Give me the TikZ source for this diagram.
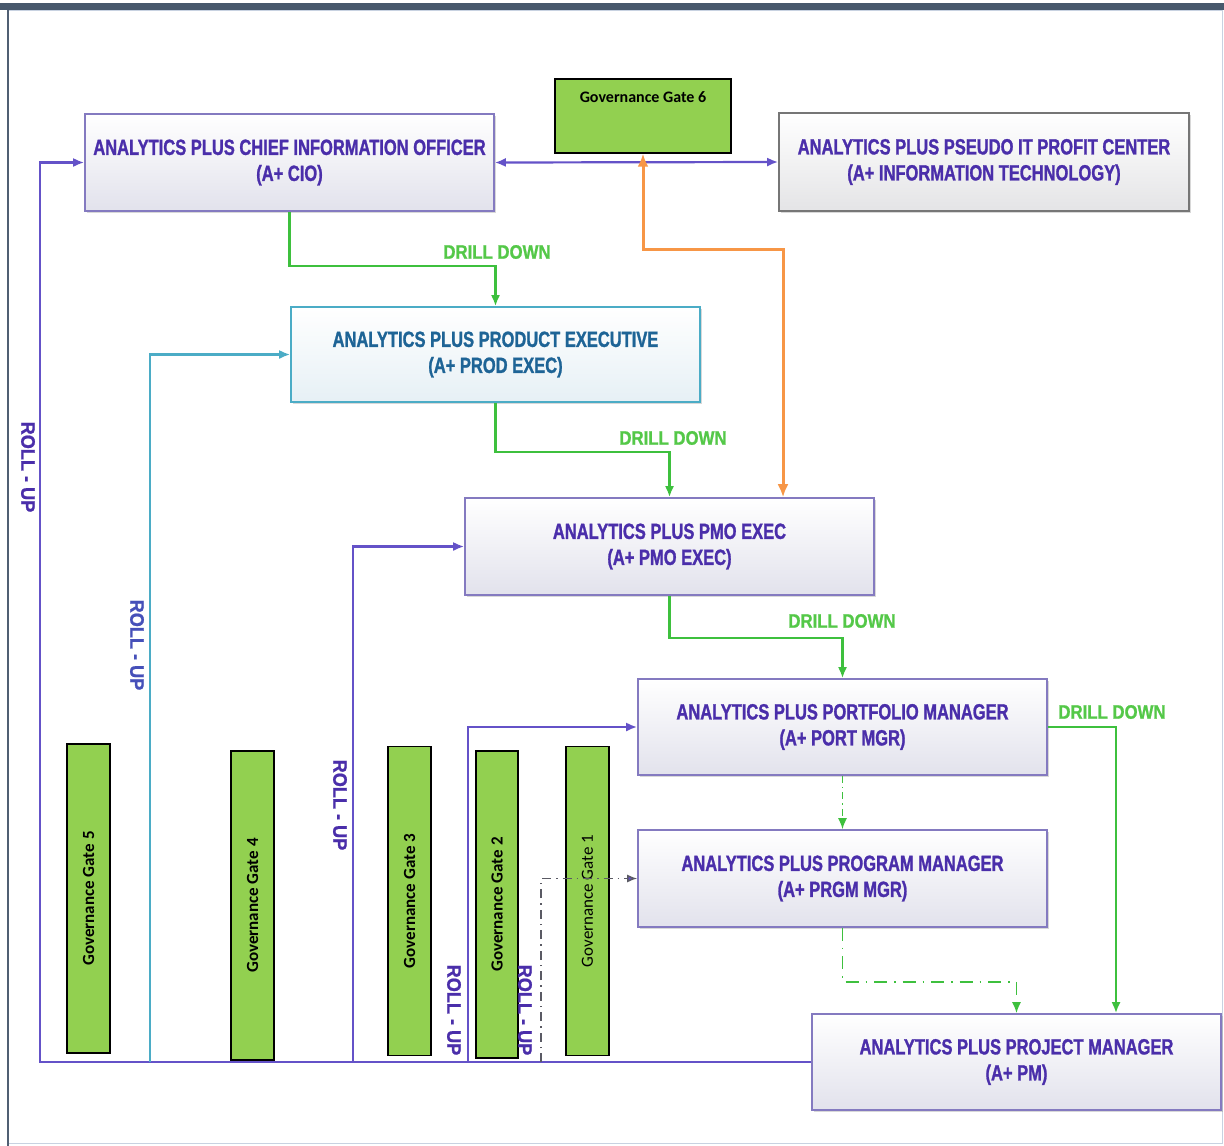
\documentclass[tikz,border=0pt]{standalone}
\usepackage{fontspec}
\setmainfont{Liberation Sans}
\newfontfamily\boxfont[FakeStretch=0.75,FakeBold=1.2]{Liberation Sans}
\newfontfamily\ddfont[FakeStretch=0.86,FakeBold=1]{Liberation Sans}
\newfontfamily\rufont[FakeStretch=0.93,FakeBold=1]{Liberation Sans}
\newfontfamily\gatefont{Carlito}
\usetikzlibrary{arrows.meta,shadows}
\definecolor{lpurple}{RGB}{100,82,200}
\definecolor{tpurple}{RGB}{74,46,170}
\definecolor{tblue}{RGB}{70,80,185}
\definecolor{tteal}{RGB}{30,100,150}
\definecolor{lcyan}{RGB}{75,172,198}
\definecolor{lgreen}{RGB}{62,192,62}
\definecolor{tgreen}{RGB}{84,200,72}
\definecolor{lorange}{RGB}{247,150,70}
\definecolor{gfill}{RGB}{146,208,80}
\definecolor{bpurple}{RGB}{132,122,192}
\definecolor{bgray}{RGB}{118,118,118}
\definecolor{shadelav}{RGB}{226,226,236}
\definecolor{shadegray}{RGB}{228,228,230}
\definecolor{shadecyan}{RGB}{230,240,245}
\definecolor{framelight}{RGB}{200,210,225}
\definecolor{framedark}{RGB}{80,95,115}
\definecolor{topbar}{RGB}{72,88,108}
\definecolor{dashgray}{RGB}{90,90,100}
\tikzset{
  rolebox/.style={draw=bpurple, line width=1.6pt, top color=white, bottom color=shadelav,
    minimum width=409pt, minimum height=97pt, align=center, text=tpurple,
    font=\boxfont\bfseries\fontsize{22}{26}\selectfont,
    drop shadow={opacity=0.3, shadow xshift=2pt, shadow yshift=-2pt}},
  gate/.style={draw=black, line width=1.4pt, fill=gfill, minimum width=309pt, minimum height=43pt,
    rotate=90, font=\gatefont\bfseries\fontsize{17}{20}\selectfont, text=black, inner sep=0pt},
  ptip/.style={-{Latex[length=11pt,width=9pt]}},
  pline/.style={draw=lpurple, line width=2.2pt},
  gline/.style={draw=lgreen, color=lgreen, line width=2.4pt},
  ddlabel/.style={text=tgreen, font=\ddfont\bfseries\fontsize{19.5}{22}\selectfont, inner sep=0pt},
  rulabel/.style={text=tpurple, font=\rufont\bfseries\fontsize{19.5}{22}\selectfont, rotate=-90, inner sep=0pt},
}
\begin{document}
\begin{tikzpicture}[x=1pt,y=-1pt]
\useasboundingbox (0,0) rectangle (1224,1146);
\fill[white] (0,0) rectangle (1224,1146);
% frame
\draw[framelight, line width=1pt] (8,10) rectangle (1222,1143);
\draw[framedark, line width=1.4pt] (8,10) -- (8,1146);
\fill[topbar] (0,3) rectangle (1224,10);

% boxes
\node[rolebox] (cio) at (289.5,162.5) {ANALYTICS PLUS CHIEF INFORMATION OFFICER\\(A+ CIO)};
\node[rolebox, draw=bgray, bottom color=shadegray, minimum width=410pt, minimum height=98pt] (it) at (984,162) {ANALYTICS PLUS PSEUDO IT PROFIT CENTER\\(A+ INFORMATION TECHNOLOGY)};
\node[rolebox, draw=lcyan, text=tteal, bottom color=shadecyan, minimum height=95pt] (prod) at (495.5,354.5) {ANALYTICS PLUS PRODUCT EXECUTIVE\\(A+ PROD EXEC)};
\node[rolebox] (pmo) at (669.5,546.5) {ANALYTICS PLUS PMO EXEC\\(A+ PMO EXEC)};
\node[rolebox, minimum height=96pt] (port) at (842.5,727) {ANALYTICS PLUS PORTFOLIO MANAGER\\(A+ PORT MGR)};
\node[rolebox] (prgm) at (842.5,878.5) {ANALYTICS PLUS PROGRAM MANAGER\\(A+ PRGM MGR)};
\node[rolebox, minimum height=96pt] (pm) at (1016.5,1062) {ANALYTICS PLUS PROJECT MANAGER\\(A+ PM)};

% gates
\node[draw=black, line width=1.4pt, fill=gfill, minimum width=176pt, minimum height=74pt,
  label={[anchor=north, yshift=-10pt, font=\gatefont\bfseries\fontsize{16}{19}\selectfont]north:Governance Gate 6}] (g6) at (643,116) {};
\node[gate] (g5) at (88.5,898.5) {Governance Gate 5};
\node[gate] (g4) at (252.5,905.5) {Governance Gate 4};
\node[gate] (g3) at (409.5,901) {Governance Gate 3};
\node[gate, minimum width=307pt, minimum height=42pt] (g2) at (497,904.5) {Governance Gate 2};
\node[gate, font=\gatefont\fontsize{17}{20}\selectfont] (g1) at (587.5,901) {Governance Gate 1};

% roll-up connectors
\coordinate (c1) at (40,1062);
\coordinate (c2) at (150,1062);
\coordinate (c3) at (353,1062);
\coordinate (c4) at (468,1062);
\coordinate (c5) at (541,1062);
\draw[pline, ptip] (pm.west) -- (c1) |- (cio.west);
\draw[draw=lcyan, line width=2.2pt, -{Latex[length=11pt,width=9pt,fill=lcyan]}] (c2) |- (prod.west);
\draw[pline, ptip] (c3) |- (pmo.west);
\draw[pline, ptip] (c4) |- (port.west);
\draw[draw=dashgray, line width=1.4pt, dash pattern=on 9pt off 5pt on 1.5pt off 5pt, -{Latex[length=10pt,width=8pt,fill=lpurple]}] (c5) |- (prgm.west);

% roll-up labels
\node[rulabel] (ru1) at (28,467) {ROLL - UP};
\node[rulabel, text=tblue] (ru2) at (137,645) {ROLL - UP};
\node[rulabel] (ru3) at (340,805) {ROLL - UP};
\node[rulabel] (ru4) at (454,1010) {ROLL - UP};
\node[rulabel] (ru5) at (525,1010) {ROLL - UP};

% top links
\draw[pline, {Latex[length=11pt,width=9pt]}-{Latex[length=11pt,width=9pt]}] (cio.east) -- (it.west);
\coordinate (ox) at (783,249);
\coordinate (gx) at (643,249);
\draw[draw=lorange, line width=3pt, {Latex[length=13pt,width=11pt]}-{Latex[length=13pt,width=11pt]}] (g6.south) -- (gx) -- (ox) -- (ox |- pmo.north);

% drill downs
\draw[gline, ptip] (cio.south) -- ++(0,54) -| (prod.north);
\draw[gline, ptip] (prod.south) -- ++(0,49) -| (pmo.north);
\draw[gline, ptip] (pmo.south) -- ++(0,42) -| (port.north);
\draw[gline, ptip] (port.east) -| ([xshift=99.5pt]pm.north);
\draw[gline, line width=1.6pt, dash pattern=on 7pt off 4pt on 1.5pt off 4pt, ptip] (port.south) -- (prgm.north);
\draw[gline, line width=1.8pt, dash pattern=on 13pt off 7pt on 1.5pt off 7pt, ptip] (prgm.south) -- ++(0,54) -| (pm.north);

\node[ddlabel] (dd1) at (497,252) {DRILL DOWN};
\node[ddlabel] (dd2) at (673,438) {DRILL DOWN};
\node[ddlabel] (dd3) at (842,621) {DRILL DOWN};
\node[ddlabel] (dd4) at (1112,712) {DRILL DOWN};
\end{tikzpicture}
\end{document}
